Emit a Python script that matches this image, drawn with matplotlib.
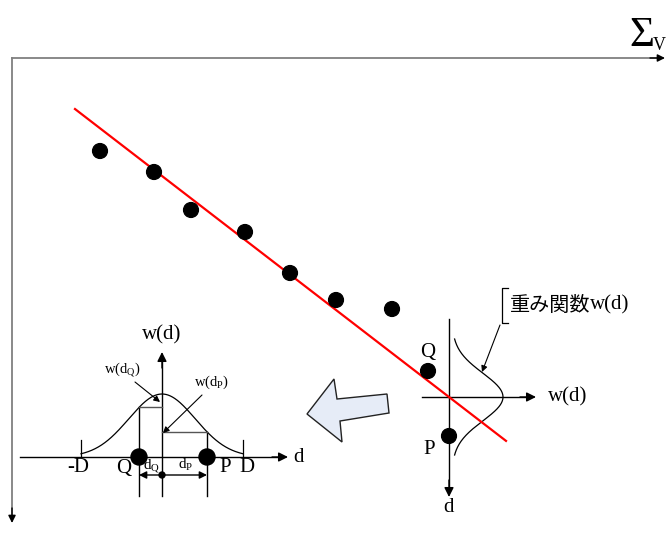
import numpy as np
import matplotlib
matplotlib.use("Agg")
from matplotlib import pyplot as plt
from matplotlib.patches import Polygon, Circle

plt.rcParams['font.family'] = ['Liberation Serif', 'DejaVu Serif']
plt.rcParams['mathtext.fontset'] = 'custom'
plt.rcParams['mathtext.rm'] = 'Liberation Serif'
plt.rcParams['mathtext.it'] = 'Liberation Serif'

# sample points (drawing units, y grows downward)
sample_x = [100, 154, 191, 245, 290, 336, 392]
sample_y = [151, 172, 210, 232, 273, 300, 309]
# the two points used in the weighting explanation
point_q = (428, 371)
point_p = (449, 436)

# fitted line through the local origin
fit_origin = (449, 397)
fit_slope = 0.77
fit_x = [75, 506]

# weight function: height, spread and cutoff distance D
w_height = 63
w_sigma = 47
w_cutoff = 81
d_q = -23
d_p = 45

# local weight plot on the fitted line
local_height = 51
local_cutoff = 58

# weight plot in the lower left
left_origin = (162, 457)

# block arrow outline
block_arrow = [(307, 414), (334, 379), (337, 399), (387, 394),
               (389, 413), (340, 421), (342, 442)]

W, H = 666, 533


def weight(d):
    return np.exp(-(np.asarray(d, dtype=float) / w_sigma) ** 2)


def arrow(ax, start, end, color='black', lw=1.0, scale=12):
    ax.annotate('', xy=end, xytext=start,
                arrowprops=dict(arrowstyle='-|>', color=color, lw=lw,
                                mutation_scale=scale, shrinkA=0, shrinkB=0))


fig = plt.figure(figsize=(W / 100, H / 100), dpi=100)
ax = fig.add_axes([0, 0, 1, 1])
ax.set_xlim(0, W)
ax.set_ylim(H, 0)
ax.axis('off')

# main axes: grey lines with black heads
ax.plot([12, 658], [58, 58], color='#808080', lw=1.3)
ax.plot([12, 12], [58, 516], color='#808080', lw=1.3)
arrow(ax, (650, 58), (665, 58), lw=1.0, scale=11)
arrow(ax, (12, 508), (12, 523), lw=1.0, scale=11)
ax.text(654, 46, 'Σ', fontsize=31, ha='right', va='baseline')
ax.text(659, 50, 'V', fontsize=13, ha='center', va='baseline')

# fitted line and samples
fx = np.array(fit_x, dtype=float)
fy = fit_origin[1] + fit_slope * (fx - fit_origin[0])
ax.plot(fx, fy, color='red', lw=1.6, zorder=3)
for x, y in zip(sample_x + [point_q[0], point_p[0]],
                sample_y + [point_q[1], point_p[1]]):
    ax.add_patch(Circle((x, y), 7.4, color='black', zorder=4))
ax.text(point_q[0], point_q[1] - 19, 'Q', fontsize=15, ha='center', va='center')
ax.text(point_p[0] - 20, point_p[1] + 13, 'P', fontsize=15, ha='center', va='center')

# local weight axes on the fitted line
ox, oy = fit_origin
ax.plot([ox, ox], [319, 490], color='black', lw=1.0)
arrow(ax, (ox, 480), (ox, 497), scale=14)
ax.plot([422, 528], [oy, oy], color='black', lw=1.0)
arrow(ax, (520, oy), (536, oy), scale=14)
ax.text(568, oy, 'w(d)', fontsize=15, ha='center', va='center')
ax.text(ox, 508, 'd', fontsize=15, ha='center', va='center')

t = np.linspace(-local_cutoff, local_cutoff, 200)
ax.plot(ox + 3 + local_height * weight(t * w_cutoff / local_cutoff), oy + t,
        color='black', lw=0.9)

# label for the local weight function
ax.plot([508, 502, 502, 508], [288, 288, 323, 323], color='black', lw=0.9)
ax.text(510, 305, '重み関数', fontsize=14.5, family=['Noto Sans CJK JP'],
        ha='left', va='center')
ax.text(590, 305, 'w(d)', fontsize=15, ha='left', va='center')
arrow(ax, (500, 325), (482, 372), lw=0.8, scale=9)

# block arrow pointing to the explanation
ax.add_patch(Polygon(block_arrow, closed=True, fc='#e6ecf7', ec='#222222',
                     lw=1.0, zorder=2))

# weight function in the lower left
lx, ly = left_origin
ax.plot([20, 280], [ly, ly], color='black', lw=1.0)
arrow(ax, (272, ly), (288, ly), scale=14)
ax.plot([lx, lx], [496, 360], color='black', lw=1.0)
arrow(ax, (lx, 368), (lx, 352), scale=14)
ax.text(lx, 335, 'w(d)', fontsize=15, ha='center', va='center')
ax.text(298, ly, 'd', fontsize=15, ha='center', va='center')

d = np.linspace(-w_cutoff, w_cutoff, 300)
ax.plot(lx + d, ly - w_height * weight(d), color='black', lw=0.9)
for s in (-1, 1):
    ax.plot([lx + s * w_cutoff] * 2, [440, ly], color='black', lw=0.9)

qx, px = lx + d_q, lx + d_p
wq = ly - w_height * weight(d_q)
wp = ly - w_height * weight(d_p)
ax.plot([qx, qx], [wq, 496], color='black', lw=1.0)
ax.plot([px, px], [wp, 496], color='black', lw=1.0)
ax.plot([qx, lx], [wq, wq], color='#555555', lw=1.0)
ax.plot([lx, px], [wp, wp], color='#555555', lw=1.0)
ax.add_patch(Circle((qx, ly), 8, color='black', zorder=4))
ax.add_patch(Circle((px, ly), 8, color='black', zorder=4))

# distance arrows from the centre
arrow(ax, (lx, 475), (qx, 475), scale=11)
arrow(ax, (lx, 475), (px, 475), scale=11)
ax.add_patch(Circle((lx, 475), 3, color='black', zorder=4))

ax.text(lx - w_cutoff - 3, 468, '-D', fontsize=15, ha='center', va='center')
ax.text(qx - 15, 468, 'Q', fontsize=15, ha='center', va='center')
ax.text(px + 18, 468, 'P', fontsize=15, ha='center', va='center')
ax.text(lx + w_cutoff + 4, 468, 'D', fontsize=15, ha='center', va='center')
ax.text((qx + lx) / 2 + 1, 465, r'$\mathrm{d_Q}$', fontsize=11,
        ha='center', va='center')
ax.text((lx + px) / 2 + 1, 465, r'$\mathrm{d_P}$', fontsize=11,
        ha='center', va='center')

ax.text(122, 370, r'$\mathrm{w(d_Q)}$', fontsize=10.5, ha='center', va='center')
arrow(ax, (135, 382), (160, 402), lw=0.8, scale=9)
ax.text(212, 382, r'$\mathrm{w(d_P)}$', fontsize=10.5, ha='center', va='center')
arrow(ax, (202, 395), (163, 433), lw=0.8, scale=9)

fig.savefig('out.png', dpi=100)
